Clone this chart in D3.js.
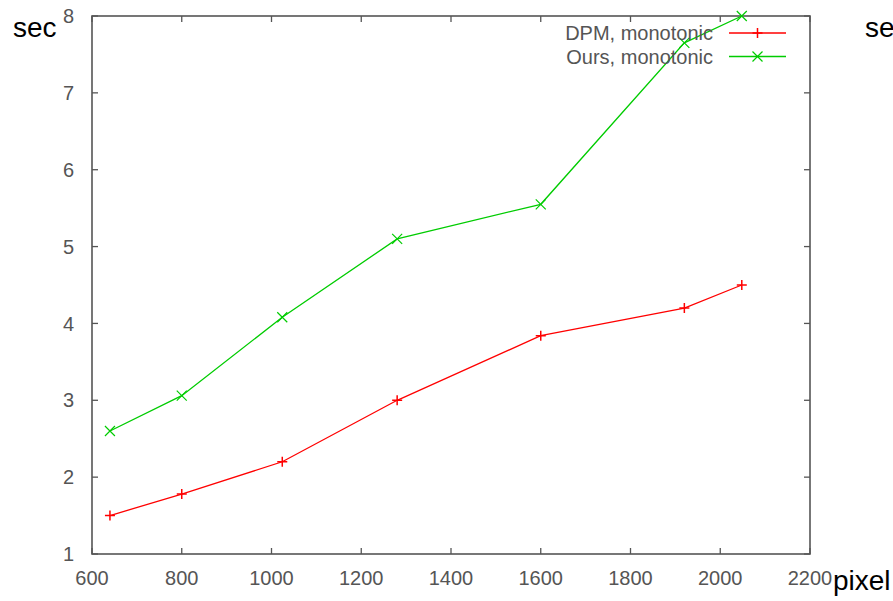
<!DOCTYPE html>
<html>
<head>
<meta charset="utf-8">
<script src="https://cdn.jsdelivr.net/npm/d3@7"></script>
<style>
  body { margin: 0; background: #fff; }
  text { font-family: "Liberation Sans", Arial, sans-serif; }
</style>
</head>
<body>
<script>
var pixels = [640, 800, 1024, 1280, 1600, 1920, 2048];
var dpmSec = [1.5, 1.78, 2.2, 3.0, 3.84, 4.2, 4.5];
var oursSec = [2.6, 3.06, 4.08, 5.1, 5.55, 7.65, 8.0];
var seriesNames = ["DPM, monotonic", "Ours, monotonic"];
var xTicks = [600, 800, 1000, 1200, 1400, 1600, 1800, 2000, 2200];
var yTicks = [1, 2, 3, 4, 5, 6, 7, 8];

(function () {

var width = 893, height = 601;
var left = 92, right = 810, plotTop = 16, bottom = 554;

var svg = d3.select("body").append("svg")
  .attr("width", width)
  .attr("height", height);

var x = d3.scaleLinear().domain([600, 2200]).range([left, right]);
var y = d3.scaleLinear().domain([1, 8]).range([bottom, plotTop]);

var colors = ["#ff0000", "#00cc00"];
var series = [dpmSec, oursSec];
var fs = 20;

// frame
svg.append("rect")
  .attr("x", left).attr("y", plotTop)
  .attr("width", right - left).attr("height", bottom - plotTop)
  .attr("fill", "none")
  .attr("stroke", "#555")
  .attr("stroke-width", 1.6);

var tickLen = 6;
// x ticks (bottom and top, inward)
xTicks.forEach(function (t) {
  svg.append("line").attr("x1", x(t)).attr("x2", x(t))
    .attr("y1", bottom).attr("y2", bottom - tickLen)
    .attr("stroke", "#555").attr("stroke-width", 1.3);
  svg.append("line").attr("x1", x(t)).attr("x2", x(t))
    .attr("y1", plotTop).attr("y2", plotTop + tickLen)
    .attr("stroke", "#555").attr("stroke-width", 1.3);
  svg.append("text")
    .attr("x", x(t)).attr("y", 585)
    .attr("text-anchor", "middle")
    .attr("font-size", fs)
    .attr("fill", "#555")
    .text(t);
});

// y ticks (left and right, inward)
yTicks.forEach(function (t) {
  svg.append("line").attr("x1", left).attr("x2", left + tickLen)
    .attr("y1", y(t)).attr("y2", y(t))
    .attr("stroke", "#555").attr("stroke-width", 1.3);
  svg.append("line").attr("x1", right).attr("x2", right - tickLen)
    .attr("y1", y(t)).attr("y2", y(t))
    .attr("stroke", "#555").attr("stroke-width", 1.3);
  svg.append("text")
    .attr("x", 74).attr("y", y(t))
    .attr("dy", "0.36em")
    .attr("text-anchor", "end")
    .attr("font-size", fs)
    .attr("fill", "#555")
    .text(t);
});

// axis titles
svg.append("text").attr("x", 13).attr("y", 37)
  .attr("font-size", 28).attr("fill", "#000").text("sec");
svg.append("text").attr("x", 833).attr("y", 590)
  .attr("font-size", 28).attr("fill", "#000").text("pixel");
// clipped title of the neighbouring chart
svg.append("text").attr("x", 865).attr("y", 37)
  .attr("font-size", 28).attr("fill", "#000").text("sec");

var line = d3.line()
  .x(function (d, i) { return x(pixels[i]); })
  .y(function (d) { return y(d); });

function plus(g, cx, cy, color) {
  var s = 5;
  g.append("path")
    .attr("d", "M" + (cx - s) + "," + cy + "H" + (cx + s) + "M" + cx + "," + (cy - s) + "V" + (cy + s))
    .attr("stroke", color).attr("stroke-width", 1.5).attr("fill", "none");
}
function cross(g, cx, cy, color) {
  var s = 5;
  g.append("path")
    .attr("d", "M" + (cx - s) + "," + (cy - s) + "L" + (cx + s) + "," + (cy + s) +
      "M" + (cx - s) + "," + (cy + s) + "L" + (cx + s) + "," + (cy - s))
    .attr("stroke", color).attr("stroke-width", 1.2).attr("fill", "none");
}
var markers = [plus, cross];

series.forEach(function (vals, k) {
  var g = svg.append("g");
  g.append("path")
    .datum(vals)
    .attr("d", line)
    .attr("fill", "none")
    .attr("stroke", colors[k])
    .attr("stroke-width", 1.3);
  vals.forEach(function (v, i) {
    markers[k](g, x(pixels[i]), y(v), colors[k]);
  });
});

// legend
seriesNames.forEach(function (name, k) {
  var ly = 33 + k * 23.5;
  svg.append("text")
    .attr("x", 713).attr("y", ly)
    .attr("dy", "0.36em")
    .attr("text-anchor", "end")
    .attr("font-size", fs)
    .attr("fill", "#555")
    .text(name);
  svg.append("line")
    .attr("x1", 729).attr("x2", 786)
    .attr("y1", ly).attr("y2", ly)
    .attr("stroke", colors[k]).attr("stroke-width", 1.3);
  markers[k](svg, 757.5, ly, colors[k]);
});

}());
</script>
</body>
</html>
